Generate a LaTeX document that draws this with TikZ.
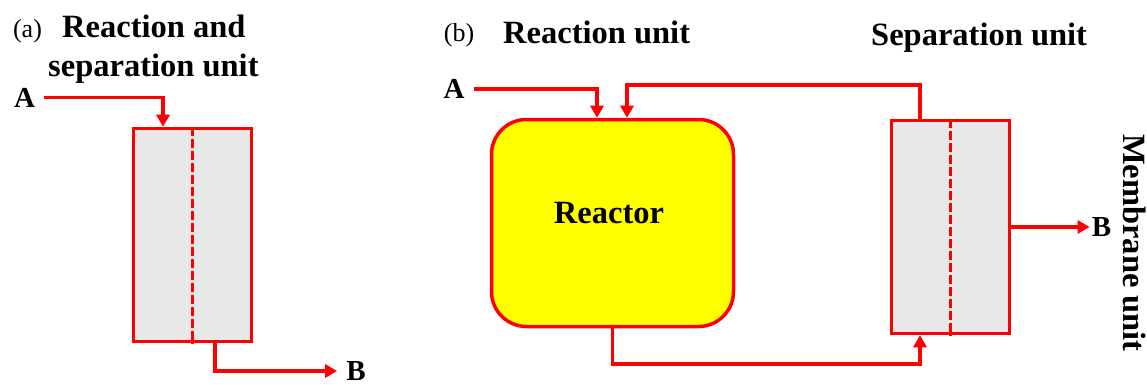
\documentclass[tikz,border=0pt]{standalone}
\usepackage{fontspec}
\setmainfont{Liberation Serif}
\usetikzlibrary{arrows.meta}
\definecolor{boxgray}{HTML}{E8E8E8}
\definecolor{reactyellow}{HTML}{FFFF00}
\definecolor{flowred}{HTML}{FF0000}
\begin{document}
\begin{tikzpicture}[x=1pt,y=-1pt,
  title/.style={font=\fontsize{32.5}{36}\selectfont\bfseries, inner sep=0pt, anchor=base west},
  tag/.style={font=\fontsize{26}{30}\selectfont, inner sep=0pt},
  letter/.style={font=\fontsize{29}{32}\selectfont\bfseries, inner ysep=0pt, inner xsep=9pt},
  unitbox/.style={draw=flowred, line width=3.5pt, fill=boxgray, minimum width=118pt, minimum height=213pt, inner sep=0pt},
  reactorbox/.style={draw=flowred, line width=3.5pt, fill=reactyellow, rounded corners=35pt, minimum width=242pt, minimum height=207pt, inner sep=0pt},
  flow/.style={draw=flowred, line width=3.5pt, -{Triangle[length=12pt,width=13pt]}},
  membrane/.style={draw=flowred, line width=2.5pt, dash pattern=on 9pt off 3pt}
]
\useasboundingbox (0,0) rectangle (1147,385);

% ---------- panel (a) ----------
\node[tag] (taga) at (27.5,31) {(a)};
\node[title] (ta1) at (62,38) {Reaction and};
\node[title] (ta2) at (48,77) {separation unit};
\node[letter] (Aa) at (24.5,97.5) {A};
\node[letter] (Ba) at (356,371) {B};
\node[unitbox] (boxa) at (192.5,235) {};
\draw[membrane] (boxa.north) -- (boxa.south);
\draw[flow] (Aa.east) -| ([xshift=-29.5pt]boxa.north);
\draw[flow] ([xshift=22.5pt]boxa.south) |- (Ba.west);

% ---------- panel (b) ----------
\node[tag] (tagb) at (459,35.5) {(b)};
\node[title] (tb1) at (503,44) {Reaction unit};
\node[title] (tb2) at (871,46) {Separation unit};
\node[letter] (Ab) at (454,89) {A};
\node[letter, inner xsep=2pt] (Bb) at (1101.5,227) {B};
\node[reactorbox] (reactor) at (612.5,223) {};
\node[font=\fontsize{32.5}{36}\selectfont\bfseries, inner sep=0pt] (rlabel) at (609,213.5) {Reactor};
\node[unitbox] (sep) at (950.5,227) {};
\draw[membrane] (sep.north) -- (sep.south);
\node[font=\fontsize{32.5}{36}\selectfont\bfseries, inner sep=0pt, text height=23pt, text depth=0pt, rotate=-90] (mem) at (1134.5,243) {Membrane unit};

\draw[flow] (Ab.east) -| ([xshift=-15.5pt]reactor.north);
\draw[flow] ([xshift=-30.5pt]sep.north) -- ++(0,-33.5) -| ([xshift=14.5pt]reactor.north);
\draw[flow] (reactor.south) -- ++(0,35.5) -| ([xshift=-30.5pt]sep.south);
\draw[flow] (sep.east) -- (Bb.west);
\end{tikzpicture}
\end{document}
